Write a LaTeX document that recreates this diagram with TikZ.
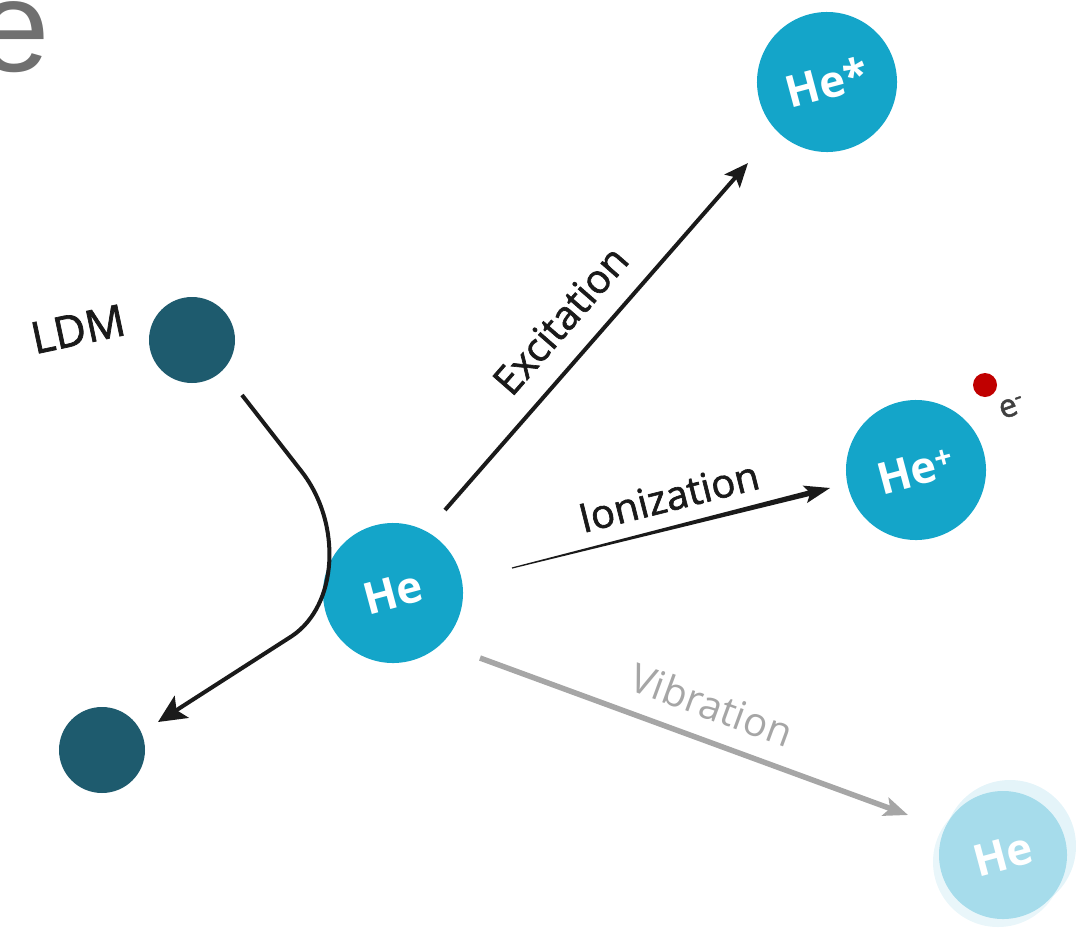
\documentclass[tikz,border=0pt]{standalone}
\usepackage{fontspec}
\setmainfont{Open Sans}
\newfontfamily\efont{Liberation Sans}
\newfontfamily\semib[FakeBold=1.6]{Open Sans}
\usetikzlibrary{arrows.meta,calc}
\definecolor{heblue}{HTML}{14A5C9}
\definecolor{ldmteal}{HTML}{1E5B6E}
\definecolor{helight}{HTML}{A6DCEB}
\definecolor{edotred}{HTML}{C00000}
\definecolor{vibgray}{HTML}{A6A6A6}
\definecolor{biggray}{HTML}{707070}
\definecolor{labblack}{HTML}{1A1A1A}
\begin{document}
\begin{tikzpicture}[x=1pt,y=1pt,
  atom/.style={circle,fill=heblue,minimum size=140pt,inner sep=0pt,text=white,
    font=\fontsize{44}{44}\selectfont\bfseries},
  ldmball/.style={circle,fill=ldmteal,minimum size=86pt,inner sep=0pt},
  arr/.style={line width=4pt,draw=labblack,-{Stealth[length=24pt,width=20pt,inset=5pt]}},
  lab/.style={font=\semib\fontsize{40}{40}\selectfont,inner sep=0pt,text=labblack}]
\useasboundingbox (0,0) rectangle (1076,-940);
% partial big letter
\node[anchor=base west,inner sep=0pt,text=biggray,font=\efont\fontsize{130}{130}\selectfont] (bige) at (-23,-71) {e};
% atoms
\node[atom,rotate=15] (hestar) at (827,-82) {He*};
\node[atom,rotate=15] (heplus) at (916,-470) {He\textsuperscript{+}};
\node[atom,rotate=15] (he) at (393,-593) {He};
\fill[helight,opacity=0.3] (1010,-846) circle (66pt);
\fill[helight,opacity=0.25] (998,-862) circle (65pt);
\node[atom,fill=helight,minimum size=128pt,rotate=15] (hevib) at (1003,-855) {He};
% LDM
\node[ldmball] (ldm) at (192,-340) {};
\node[ldmball] (ldmout) at (102,-750) {};
\node[lab,font=\semib\fontsize{44}{44}\selectfont,rotate=12] (ldmlab) at (78,-329) {LDM};
% electron
\node[circle,fill=edotred,minimum size=24pt,inner sep=0pt] (edot) at (985,-385) {};
\node[font=\semib\fontsize{32}{32}\selectfont,text=black!75,rotate=20,inner sep=0pt] (elab) at (1012,-407) {e\textsuperscript{-}};
% LDM scattering path
\coordinate (ldmS) at (242,-395);
\coordinate (ldmT) at (158,-722);
\draw[arr,-{Stealth[length=28pt,width=26pt,inset=6pt]}] (ldmS) -- (302,-472) .. controls (342,-524) and (338,-605) .. (292,-636) -- (ldmT);
% excitation
\coordinate (excS) at (445,-510);
\coordinate (excT) at (748,-163);
\draw[arr] (excS) -- node[lab,sloped,pos=0.475,yshift=38pt] (exclab) {Excitation} (excT);
% ionization (tapered)
\coordinate (ionS) at (512,-568);
\coordinate (ionT) at (830,-488);
\coordinate (ionB) at ($(ionT)!22pt!(ionS)$);
\coordinate (ionW) at ($(ionT)!26pt!(ionS)$);
\fill[labblack] ($(ionS)!0.6pt!90:(ionT)$) -- ($(ionB)!2.8pt!-90:(ionS)$) -- ($(ionW)!9pt!-90:(ionS)$) -- (ionT)
  -- ($(ionW)!9pt!90:(ionS)$) -- ($(ionB)!2.8pt!90:(ionS)$) -- ($(ionS)!0.6pt!-90:(ionT)$) -- cycle;
\path (ionS) -- node[lab,sloped,pos=0.517,yshift=31pt] (ionlab) {Ionization} (ionT);
% vibration
\coordinate (vibS) at (480,-658);
\coordinate (vibT) at (908,-815);
\draw[arr,draw=vibgray,line width=5.5pt,-{Stealth[length=24pt,width=19pt,inset=5pt]}] (vibS) -- node[lab,font=\fontsize{40}{40}\selectfont,sloped,pos=0.513,yshift=36pt,text=vibgray] (viblab) {Vibration} (vibT);
\end{tikzpicture}
\end{document}
